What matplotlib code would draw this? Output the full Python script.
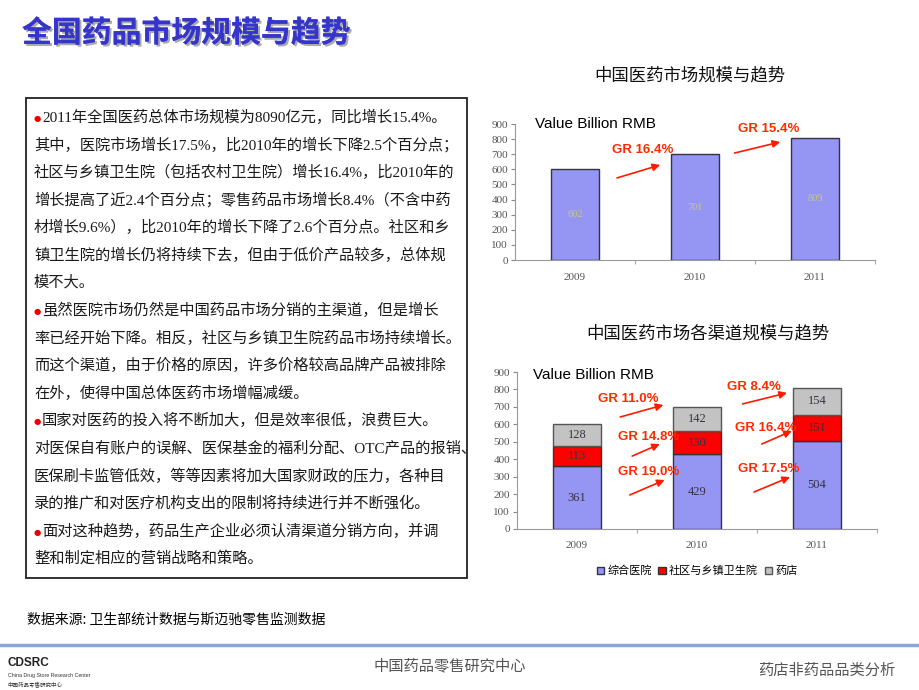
import matplotlib
matplotlib.use('Agg')
import matplotlib.pyplot as plt
import matplotlib.patheffects as pe
from matplotlib.patches import Rectangle
from matplotlib.lines import Line2D
import numpy as np

plt.rcParams['font.family'] = ['Noto Sans CJK SC', 'DejaVu Sans']

# ---------------- data ----------------
years = ['2009', '2010', '2011']
total_market = [602, 701, 809]
total_growth = ['GR 16.4%', 'GR 15.4%']
hospital = [361, 429, 504]
community = [113, 130, 151]
pharmacy = [128, 142, 154]
channel_names = ['综合医院', '社区与乡镇卫生院', '药店']
hospital_growth = ['GR 19.0%', 'GR 17.5%']
community_growth = ['GR 14.8%', 'GR 16.4%']
pharmacy_growth = ['GR 11.0%', 'GR 8.4%']
y_ticks = [0, 100, 200, 300, 400, 500, 600, 700, 800, 900]

title = '全国药品市场规模与趋势'
chart1_title = '中国医药市场规模与趋势'
chart2_title = '中国医药市场各渠道规模与趋势'
unit_label = 'Value Billion RMB'
source_text = '数据来源: 卫生部统计数据与斯迈驰零售监测数据'
footer_center = '中国药品零售研究中心'
footer_right = '药店非药品品类分析'

text_lines = [
    (True,  '2011年全国医药总体市场规模为8090亿元，同比增长15.4%。'),
    (False, '其中，医院市场增长17.5%，比2010年的增长下降2.5个百分点；'),
    (False, '社区与乡镇卫生院（包括农村卫生院）增长16.4%，比2010年的'),
    (False, '增长提高了近2.4个百分点；零售药品市场增长8.4%（不含中药'),
    (False, '材增长9.6%），比2010年的增长下降了2.6个百分点。社区和乡'),
    (False, '镇卫生院的增长仍将持续下去，但由于低价产品较多，总体规'),
    (False, '模不大。'),
    (True,  '虽然医院市场仍然是中国药品市场分销的主渠道，但是增长'),
    (False, '率已经开始下降。相反，社区与乡镇卫生院药品市场持续增长。'),
    (False, '而这个渠道，由于价格的原因，许多价格较高品牌产品被排除'),
    (False, '在外，使得中国总体医药市场增幅减缓。'),
    (True,  '国家对医药的投入将不断加大，但是效率很低，浪费巨大。'),
    (False, '对医保自有账户的误解、医保基金的福利分配、OTC产品的报销、'),
    (False, '医保刷卡监管低效，等等因素将加大国家财政的压力，各种目'),
    (False, '录的推广和对医疗机构支出的限制将持续进行并不断强化。'),
    (True,  '面对这种趋势，药品生产企业必须认清渠道分销方向，并调'),
    (False, '整和制定相应的营销战略和策略。'),
]

# ---------------- layout helpers ----------------
W, H = 920, 690
def fx(x): return x / W
def fy(y): return 1 - y / H

fig = plt.figure(figsize=(9.2, 6.9), dpi=100)
fig.patch.set_facecolor('white')

BLUE = '#9595F3'
RED = '#FF0000'
GRAY = '#C3C3C3'
GR_COLOR = '#FF2A00'
TICK_COLOR = '#555555'
BODY_FONT = ['Liberation Serif', 'Noto Sans CJK SC', 'DejaVu Sans']

# title
fig.text(fx(22), fy(33), title, fontsize=21.5, fontweight='bold', color='#3535CC',
         va='center', ha='left',
         path_effects=[pe.withSimplePatchShadow(offset=(1.5, -1.5), shadow_rgbFace='#888888', alpha=0.7),
                       pe.Normal()])

# text box
fig.add_artist(Rectangle((fx(26), fy(578)), fx(467) - fx(26), fy(98) - fy(578),
                         transform=fig.transFigure, fill=False, edgecolor='#222222', linewidth=1.3))
y0, dy = 117, 27.6
for i, (bullet, line) in enumerate(text_lines):
    yy = y0 + i * dy
    if bullet:
        fig.text(fx(34), fy(yy + 1), '●', color='#EE0000', fontsize=6, va='center', ha='left',
                 family=['DejaVu Sans'])
        fig.text(fx(42), fy(yy), line, fontsize=11, color='#1a1a1a', va='center', ha='left',
                 family=BODY_FONT)
    else:
        fig.text(fx(34), fy(yy), line, fontsize=11, color='#1a1a1a', va='center', ha='left',
                 family=BODY_FONT)

# source & footer
fig.text(fx(27), fy(620), source_text, fontsize=10, color='black', va='center', ha='left', fontweight='medium')
fig.add_artist(Line2D([0, 1], [fy(645), fy(645)], transform=fig.transFigure, color='#8CA6D8', linewidth=2.5))
fig.text(fx(8), fy(663), 'CDSRC', fontsize=8.5, fontweight='bold', color='#222222', va='center', ha='left',
         family=['Liberation Sans'])
fig.text(fx(8), fy(675), 'China Drug Store Research Center', fontsize=3.8, color='#333333', va='center', ha='left',
         family=['Liberation Sans'])
fig.text(fx(8), fy(684), footer_center, fontsize=4, color='#333333', va='center', ha='left')
fig.text(fx(450), fy(666), footer_center, fontsize=11, color='#555555', va='center', ha='center')
fig.text(fx(895), fy(670), footer_right, fontsize=11, color='#555555', va='center', ha='right')

# chart titles
fig.text(fx(690), fy(75), chart1_title, fontsize=12.5, color='#111111', va='center', ha='center')
fig.text(fx(708), fy(333), chart2_title, fontsize=12.5, color='#111111', va='center', ha='center')


def style_axes(ax):
    ax.set_xlim(-0.5, 2.5)
    ax.set_ylim(0, 900)
    ax.set_yticks(y_ticks)
    ax.set_yticklabels([str(v) for v in y_ticks], family=['Liberation Serif'], fontsize=8, color=TICK_COLOR)
    ax.set_xticks(range(len(years)))
    ax.set_xticklabels(years, family=['Liberation Serif'], fontsize=8, color=TICK_COLOR)
    ax.tick_params(axis='x', length=0, pad=9)
    ax.tick_params(axis='y', length=3, width=0.8, color='#888888', pad=2)
    ax.set_xticks([0.5, 1.5, 2.5], minor=True)
    ax.tick_params(axis='x', which='minor', length=3, width=0.8, color='#AAAAAA', direction='out')
    for s in ['top', 'right']:
        ax.spines[s].set_visible(False)
    for s in ['left', 'bottom']:
        ax.spines[s].set_color('#999999')
        ax.spines[s].set_linewidth(0.8)
    ax.patch.set_alpha(0)


def gr(ax, label, tx, ty, tail, head):
    ax.text(tx, ty, label, color=GR_COLOR, fontsize=9.5, fontweight='bold', family=['Liberation Sans'],
            va='center', ha='left', zorder=6)
    ax.annotate('', xy=head, xytext=tail,
                arrowprops=dict(arrowstyle='-|>', color='#FF1A00', lw=1.2, mutation_scale=11,
                                shrinkA=0, shrinkB=0), zorder=6)

x = np.arange(len(years))
bw = 0.4

# ---------------- chart 1 ----------------
ax1 = fig.add_axes([fx(515), fy(260), (875 - 515) / W, (260 - 124) / H])
style_axes(ax1)
ax1.bar(x, total_market, width=bw, color=BLUE, edgecolor='#333344', linewidth=1.0, zorder=3)
for xi, v in zip(x, total_market):
    ax1.text(xi, v / 2, str(v), color='#C8C878', fontsize=7.5, family=['Liberation Serif'],
             ha='center', va='center', zorder=4)
ax1.text(-0.33, 900, unit_label, fontsize=11, family=['Liberation Sans'], color='black', va='center', ha='left')
gr(ax1, total_growth[0], 0.31, 728, (0.35, 543), (0.71, 629))
gr(ax1, total_growth[1], 1.36, 867, (1.33, 708), (1.71, 781))

# ---------------- chart 2 ----------------
ax2 = fig.add_axes([fx(517), fy(529), (877 - 517) / W, (529 - 372) / H])
style_axes(ax2)
hosp = np.array(hospital)
comm = np.array(community)
phar = np.array(pharmacy)
b1 = ax2.bar(x, hosp, width=bw, color=BLUE, edgecolor='#333344', linewidth=1.0, zorder=3)
b2 = ax2.bar(x, comm, bottom=hosp, width=bw, color=RED, edgecolor='#333333', linewidth=1.0, zorder=3)
b3 = ax2.bar(x, phar, bottom=hosp + comm, width=bw, color=GRAY, edgecolor='#555555', linewidth=1.0, zorder=3)
for series, bottom in [(hosp, np.zeros(3)), (comm, hosp), (phar, hosp + comm)]:
    for xi, v, b in zip(x, series, bottom):
        ax2.text(xi, b + v / 2, str(v), color='#333344', fontsize=9, family=['Liberation Serif'],
                 ha='center', va='center', zorder=4)
ax2.text(-0.37, 880, unit_label, fontsize=11, family=['Liberation Sans'], color='black', va='center', ha='left')
gr(ax2, pharmacy_growth[0], 0.175, 745, (0.36, 642), (0.72, 711))
gr(ax2, community_growth[0], 0.34, 527, (0.46, 418), (0.69, 487))
gr(ax2, hospital_growth[0], 0.34, 327, (0.44, 195), (0.73, 281))
gr(ax2, pharmacy_growth[1], 1.25, 814, (1.38, 717), (1.75, 780))
gr(ax2, community_growth[1], 1.32, 579, (1.54, 487), (1.79, 562))
gr(ax2, hospital_growth[1], 1.34, 344, (1.475, 212), (1.775, 298))

fig.legend([b1, b2, b3], channel_names, loc='center', bbox_to_anchor=(fx(697), fy(571)), ncol=3,
           frameon=False, fontsize=8, handlelength=0.7, handleheight=0.7, handletextpad=0.25,
           columnspacing=0.6, borderpad=0)

fig.savefig('out.png', dpi=100)
